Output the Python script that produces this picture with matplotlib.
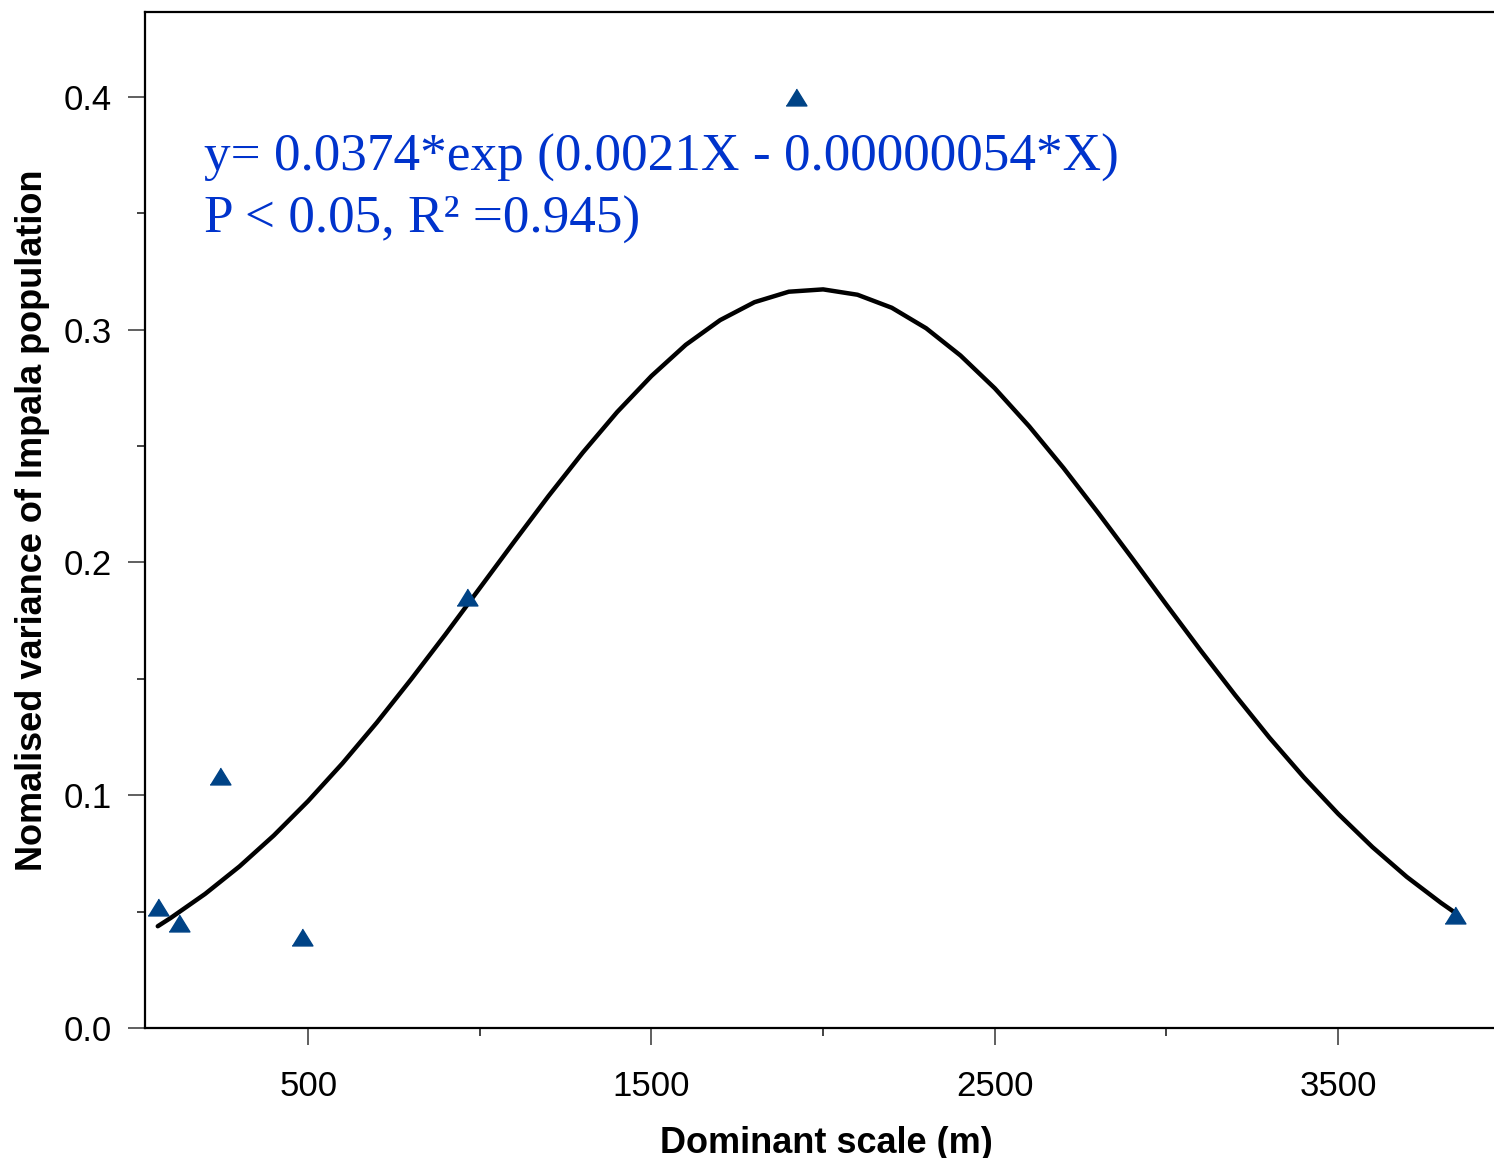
import matplotlib
matplotlib.use("Agg")
import matplotlib.pyplot as plt
from matplotlib.ticker import FixedLocator, FormatStrFormatter

# observed points (dominant scale in m, normalised variance)
scale_m = [62, 123, 243, 483, 962, 1921, 3840]
variance = [0.0518, 0.0453, 0.1083, 0.0389, 0.1852, 0.400, 0.0484]

# fitted curve
fit_x = [62, 100, 200, 300, 400, 500, 600, 700, 800, 900, 1000, 1100, 1200,
         1300, 1400, 1500, 1600, 1700, 1800, 1900, 2000, 2100, 2200, 2300,
         2400, 2500, 2600, 2700, 2800, 2900, 3000, 3100, 3200, 3300, 3400,
         3500, 3600, 3700, 3800, 3836]
fit_y = [0.0437, 0.0473, 0.0576, 0.0694, 0.0827, 0.0975, 0.1137, 0.1312,
         0.1498, 0.1691, 0.1890, 0.2089, 0.2285, 0.2472, 0.2646, 0.2801,
         0.2935, 0.3041, 0.3118, 0.3163, 0.3173, 0.3150, 0.3094, 0.3006,
         0.2889, 0.2748, 0.2585, 0.2406, 0.2215, 0.2018, 0.1818, 0.1621,
         0.1430, 0.1247, 0.1077, 0.0920, 0.0777, 0.0649, 0.0537, 0.0500]

x_major = [500, 1500, 2500, 3500]
x_minor = [1000, 2000, 3000]
y_major = [0.0, 0.1, 0.2, 0.3, 0.4]
y_minor = [0.05, 0.15, 0.25, 0.35]

eq_line1 = "y= 0.0374*exp (0.0021X - 0.00000054*X)"
eq_line2 = "P < 0.05, R\u00b2 =0.945)"

fig = plt.figure(figsize=(14.94, 11.58), dpi=100)
ax = fig.add_axes([0.0971, 0.1123, 0.9029, 0.8774])

ax.plot(fit_x, fit_y, color="black", lw=3.2, solid_capstyle="round",
        solid_joinstyle="round", zorder=2)
tri = [(-1, -0.81), (1, -0.81), (0, 0.81)]
ax.plot(scale_m, variance, ls="none", marker=tri, ms=15,
        color="#004386", mec="#004386", zorder=3)

ax.set_xlim(25, 3954)
ax.set_ylim(0, 0.4365)

ax.xaxis.set_major_locator(FixedLocator(x_major))
ax.xaxis.set_minor_locator(FixedLocator(x_minor))
ax.yaxis.set_major_locator(FixedLocator(y_major))
ax.yaxis.set_minor_locator(FixedLocator(y_minor))
ax.yaxis.set_major_formatter(FormatStrFormatter("%.1f"))

ax.tick_params(which="major", length=12, width=1.2, color="#444444",
               labelsize=25, pad=12)
ax.tick_params(which="minor", length=6, width=1.2, color="#222222")
ax.tick_params(axis="x", which="major", pad=18.5)
for lab in ax.get_xticklabels() + ax.get_yticklabels():
    lab.set_fontfamily("Liberation Sans")

for side in ["left", "bottom", "top"]:
    ax.spines[side].set_linewidth(1.6)
ax.spines["right"].set_visible(False)

ax.set_xlabel("Dominant scale (m)", fontsize=26, fontweight="bold",
              family="Liberation Sans", labelpad=16)
ax.xaxis.label.set_x(0.505)
ax.set_ylabel("Nomalised variance of Impala population", fontsize=26,
              fontweight="bold", family="Liberation Sans", labelpad=10)

ax.text(0.0437, 0.8435, eq_line1, transform=ax.transAxes, fontsize=38.3,
        family="Liberation Serif", color="#0033CC", va="baseline")
ax.text(0.0437, 0.7825, eq_line2, transform=ax.transAxes, fontsize=38.3,
        family="Liberation Serif", color="#0033CC", va="baseline")

fig.savefig("out.png", dpi=100)
